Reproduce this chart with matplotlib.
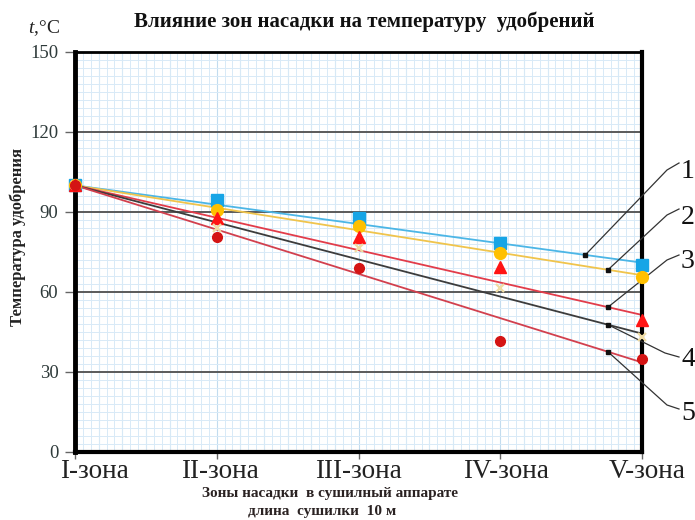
import matplotlib
matplotlib.use("Agg")
import matplotlib.pyplot as plt
from matplotlib.ticker import MultipleLocator
from matplotlib.transforms import ScaledTranslation
import numpy as np

plt.rcParams["font.family"] = ["Liberation Serif", "DejaVu Serif"]
plt.rcParams["mathtext.fontset"] = "custom"
plt.rcParams["mathtext.rm"] = "Liberation Serif"
plt.rcParams["mathtext.it"] = "Liberation Serif:italic"

# ---------------- data ----------------
zones = ["I-зона", "II-зона", "III-зона", "IV-зона", "V-зона"]
s1 = [100, 94.5, 87.7, 78.4, 70.0]   # blue squares
s2 = [100, 90.7, 84.7, 74.5, 65.6]   # yellow circles
s3 = [100, 87.7, 80.7, 69.4, 49.5]   # red triangles
s4 = [100, 84.0, 76.5, 61.5, 43.0]   # pale x
s5 = [100, 80.7, 69.0, 41.6, 35.0]   # dark red circles
trend_start = [100, 100, 100, 100, 100]
trend_end = [71.0, 66.3, 51.4, 44.4, 33.6]
curve_labels = ["1", "2", "3", "4", "5"]
yticks = [0, 30, 60, 90, 120, 150]

# ---------------- layout ----------------
W, H = 695, 520
L, R, T, B = 75, 642, 52, 452
fig = plt.figure(figsize=(W / 100, H / 100), dpi=100)
ax = fig.add_axes([L / W, 1 - B / H, (R - L) / W, (B - T) / H])
x = np.arange(len(zones))
ax.set_xlim(0, len(zones) - 1)
ax.set_ylim(0, 150)

# graph-paper background
ax.xaxis.set_minor_locator(MultipleLocator(4 / 72))
ax.yaxis.set_minor_locator(MultipleLocator(3))
ax.grid(which="minor", color="#d8eaf7", lw=0.7, zorder=0)
for xv in np.arange(0, 4.0001, 4 / 24):
    ax.axvline(xv, color="#c2dcef", lw=0.8, zorder=0)
ax.set_yticks(yticks)
ax.grid(which="major", axis="y", color="#5a5a5a", lw=1.4, zorder=1)
ax.grid(which="major", axis="x", visible=False)
ax.set_xticks(x)
ax.set_xticklabels(zones, fontsize=19.5)
ax.tick_params(which="minor", length=0)
ax.tick_params(axis="y", which="major", length=7, width=1, color="#666666",
               labelsize=13.5, labelcolor="#2e3a3a", pad=5)
ax.tick_params(axis="x", which="major", length=5, width=1, color="#666666", pad=0)
label_shift_px = [19, 3, 0, 6, 5]
for lab, dx in zip(ax.get_xticklabels(), label_shift_px):
    lab.set_color("#222222")
    lab.set_transform(lab.get_transform() + ScaledTranslation(dx / 100, 0, fig.dpi_scale_trans))

for side, lw in (("left", 3.5), ("bottom", 3), ("right", 3), ("top", 2)):
    ax.spines[side].set_linewidth(lw)
    ax.spines[side].set_color("black")
    ax.spines[side].set_zorder(6)

# trend lines
line_colors = ["#4cb6e6", "#f0c44c", "#e23c4a", "#3c3c3c", "#d2404e"]
for st, en, c in zip(trend_start, trend_end, line_colors):
    ax.plot([x[0], x[-1]], [st, en], color=c, lw=1.3, zorder=3)

# markers
mk = dict(ls="none", clip_on=False)
ax.plot(x, s1, marker="s", ms=8, color="#17a5e6", zorder=7, **mk)
ax.plot(x, s2, marker="o", ms=8.5, color="#ffc000", zorder=7, **mk)
ax.plot(x, s3, marker="^", ms=8.5, color="#ff1414", zorder=7, **mk)
ax.plot(x, s4, marker="x", ms=6, mew=1.6, color="#efdca4", zorder=7, **mk)
ax.plot(x, s5, marker="o", ms=7, color="#d41414", zorder=8, **mk)


def px2d(px, py):
    return ((px - L) / (R - L) * (len(zones) - 1), (B - py) / (B - T) * 150)


# leaders (layout, pixel positions)
leader_x = [3.6, 3.76, 3.76, 3.76, 3.76]
leader_mid = [(667, 170), (667, 215), (667, 260), (665, 353), (667, 405)]
leader_end = [(679, 163), (679, 209), (679, 255), (679, 357), (679, 409)]
label_pos = [(681, 172), (681, 217), (681, 261), (681, 359), (681, 413)]
for i in range(5):
    lx = leader_x[i]
    ly = trend_start[i] + (trend_end[i] - trend_start[i]) * lx / (len(zones) - 1)
    mx, my = px2d(*leader_mid[i])
    ex, ey = px2d(*leader_end[i])
    ax.plot([lx, mx, ex], [ly, my, ey], color="#333333", lw=0.9,
            clip_on=False, zorder=6.5)
    ax.plot([lx], [ly], ls="none", marker="s", ms=3.2, color="#111111",
            clip_on=False, zorder=8)
    tx, ty = px2d(*label_pos[i])
    ax.text(tx, ty, curve_labels[i], fontsize=20, ha="left", va="center",
            color="#111111", clip_on=False)

# texts
fig.text(364 / W, 1 - 22 / H, "Влияние зон насадки на температуру  удобрений",
         ha="center", va="center", fontsize=15, fontweight="bold", color="#111111")
fig.text(28 / W, 1 - 28 / H, "$t$,°C", ha="left", va="center", fontsize=14, color="#222222")
fig.text(18 / W, 1 - 237 / H, "Температура удобрения", rotation=90,
         ha="center", va="center", fontsize=12, fontweight="bold", color="#222222")
fig.text(330 / W, 1 - 493 / H, "Зоны насадки  в сушилный аппарате",
         ha="center", va="center", fontsize=11, fontweight="bold", color="#2a2222")
fig.text(322 / W, 1 - 511 / H, "длина  сушилки  10 м",
         ha="center", va="center", fontsize=11, fontweight="bold", color="#2a2222")

fig.savefig("out.png", dpi=100)
